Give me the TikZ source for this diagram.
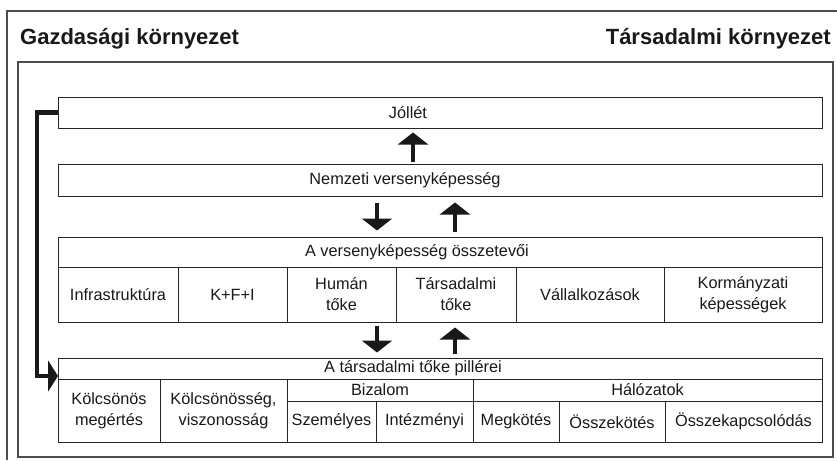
\documentclass[tikz,border=0pt]{standalone}
\usepackage{fontspec}
\setmainfont{Liberation Sans}
\usepackage{tikz}
\usetikzlibrary{arrows.meta, positioning, calc}

\newcommand{\bodyfont}{\fontsize{16.3}{21}\selectfont}
\newcommand{\titlefont}{\fontsize{22}{26}\selectfont\bfseries}

\tikzset{
  cell/.style={draw=black!85, line width=1pt, inner sep=0pt, align=center, font=\bodyfont, text=black!90},
  lbl/.style={inner sep=0pt, font=\bodyfont, text=black!90},
  title/.style={inner sep=0pt, font=\titlefont, text=black!90},
  frame/.style={draw=black!70, line width=1.2pt},
  bigarrow/.style={-{Triangle[width=30pt,length=12pt]}, line width=4pt, black!90},
  backarrow/.style={-{Triangle[width=31pt,length=10pt]}, line width=4.5pt, black!90},
}

\begin{document}
\begin{tikzpicture}[x=1pt, y=-1pt]
      \useasboundingbox (0,0) rectangle (837,460);

      % frames
      \draw[frame] (7,460) -- (7,11) -- (837,11);
      \draw[frame] (18,62) rectangle (833,457);
      \node[title, anchor=base west] (gazd) at (20,45) {Gazdasági környezet};
      \node[title, anchor=base east] (tars) at (831,45) {Társadalmi környezet};

      % top rows
      \node[cell, minimum width=764pt, minimum height=31pt] (jollet) at (440,112.5) {};
      \node[lbl] (jolletlbl) at (408,112.5) {Jóllét};
      \node[cell, minimum width=764pt, minimum height=32pt] (nemzeti) at (440,180) {};
      \node[lbl] (nemzetilbl) at (405,180) {Nemzeti versenyképesség};

      % components of competitiveness
      \node[cell, minimum width=764pt, minimum height=30pt] (osszhead) at (440,252) {};
      \node[lbl] (osszlbl) at (417,252) {A versenyképesség összetevői};
      \node[cell, minimum width=120pt, minimum height=55pt] (infra) at (118,294.5) {Infrastruktúra};
      \node[cell, minimum width=109pt, minimum height=55pt] (kfi) at (232.5,294.5) {K+F+I};
      \node[cell, minimum width=109pt, minimum height=55pt] (human) at (341.5,294.5) {Humán\\tőke};
      \node[cell, minimum width=120pt, minimum height=55pt] (tarsad) at (456,294.5) {Társadalmi\\tőke};
      \node[cell, minimum width=148pt, minimum height=55pt] (vallalk) at (590,294.5) {Vállalkozások};
      \node[cell, minimum width=158pt, minimum height=55pt] (kormany) at (743,294.5) {Kormányzati\\képességek};

      % pillars of social capital
      \node[cell, minimum width=764pt, minimum height=21pt] (pillar) at (440,368.5) {};
      \node[lbl] (pillarlbl) at (413,368.5) {A társadalmi tőke pillérei};
      \node[cell, minimum width=102pt, minimum height=63pt] (kolcs) at (109,410.5) {Kölcsönös\\megértés};
      \node[cell, minimum width=127pt, minimum height=63pt] (viszony) at (223.5,410.5) {Kölcsönösség,\\viszonosság};
      \node[cell, minimum width=186pt, minimum height=22pt] (bizalom) at (380,390) {Bizalom};
      \node[cell, minimum width=349pt, minimum height=22pt] (halozat) at (647.5,390) {Hálózatok};
      \node[cell, minimum width=89pt, minimum height=41pt] (szemely) at (331.5,421.5) {Személyes};
      \node[cell, minimum width=97pt, minimum height=41pt] (intezm) at (424.5,421.5) {Intézményi};
      \node[cell, minimum width=86pt, minimum height=41pt] (megkot) at (516,421.5) {Megkötés};
      \node[cell, minimum width=106pt, minimum height=41pt] (osszekot) at (612,421.5) {Összekötés};
      \node[cell, minimum width=157pt, minimum height=41pt] (osszekap) at (743.5,421.5) {Összekapcsolódás};

      % arrows
      \coordinate (upa) at (413,0);
      \coordinate (dnb) at (377,0);
      \coordinate (upb) at (455,0);
      \draw[bigarrow, shorten <=2pt, shorten >=4pt] (nemzeti.north -| upa) -- (jollet.south -| upa);
      \draw[bigarrow, shorten <=6pt, shorten >=6pt] (nemzeti.south -| dnb) -- (osszhead.north -| dnb);
      \draw[bigarrow, shorten <=5pt, shorten >=6pt] (osszhead.north -| upb) -- (nemzeti.south -| upb);
      \draw[bigarrow, shorten <=3pt, shorten >=5pt] (human.south -| dnb) -- (pillar.north -| dnb);
      \draw[bigarrow, shorten <=4pt, shorten >=5pt] (pillar.north -| upb) -- (tarsad.south -| upb);

      \coordinate (fbk) at (37,0);
      \coordinate (fbin) at (58,376);
      \draw[backarrow] (jollet.west) -- (jollet.west -| fbk) -- (fbin -| fbk) -- (fbin);

    \end{tikzpicture}
\end{document}
